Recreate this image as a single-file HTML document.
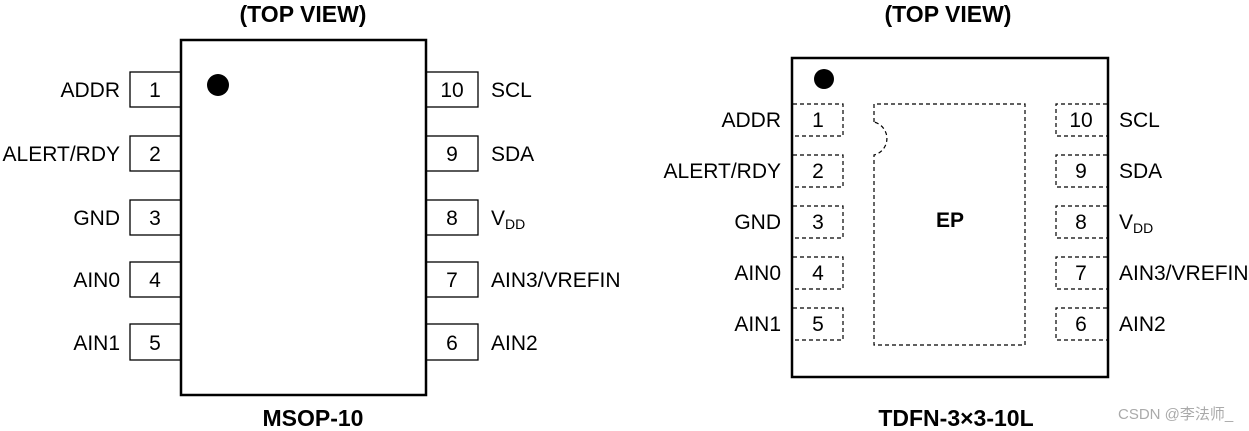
<!DOCTYPE html>
<html><head><meta charset="utf-8"><style>
html,body{margin:0;padding:0;background:#fff;}
svg{display:block;}
text{font-family:"Liberation Sans",Arial,sans-serif;font-size:21px;fill:#000;}
.b{font-weight:bold;font-size:23px;}
</style></head><body>
<svg width="1249" height="431" viewBox="0 0 1249 431" xmlns="http://www.w3.org/2000/svg">
<text class="b" x="303" y="22" text-anchor="middle">(TOP VIEW)</text>
<text class="b" x="948" y="22" text-anchor="middle">(TOP VIEW)</text>
<text class="b" x="313" y="426" text-anchor="middle">MSOP-10</text>
<text class="b" x="956" y="426" text-anchor="middle">TDFN-3×3-10L</text>
<text x="1118" y="419" style="font-size:15px;fill:#aaa" font-family="Liberation Sans, Noto Sans CJK SC, sans-serif">CSDN @李法师_</text>

<!-- MSOP -->
<g fill="#fff" stroke="#000" stroke-width="1.3">
<rect x="130" y="72" width="51" height="35"/>
<rect x="130" y="136" width="51" height="35"/>
<rect x="130" y="200" width="51" height="35"/>
<rect x="130" y="262" width="51" height="35"/>
<rect x="130" y="324" width="51" height="36"/>
<rect x="426" y="72" width="52" height="35"/>
<rect x="426" y="136" width="52" height="35"/>
<rect x="426" y="200" width="52" height="35"/>
<rect x="426" y="262" width="52" height="35"/>
<rect x="426" y="324" width="52" height="36"/>
</g>
<rect x="181" y="40" width="245" height="355" fill="#fff" stroke="#000" stroke-width="2.5"/>
<circle cx="218" cy="85" r="11"/>
<g text-anchor="middle">
<text x="155" y="97">1</text><text x="155" y="161">2</text><text x="155" y="225">3</text><text x="155" y="287">4</text><text x="155" y="350">5</text>
<text x="452" y="97">10</text><text x="452" y="161">9</text><text x="452" y="225">8</text><text x="452" y="287">7</text><text x="452" y="350">6</text>
</g>
<g text-anchor="end">
<text x="120" y="97">ADDR</text><text x="120" y="161">ALERT/RDY</text><text x="120" y="225">GND</text><text x="120" y="287">AIN0</text><text x="120" y="350">AIN1</text>
</g>
<text x="491" y="97">SCL</text><text x="491" y="161">SDA</text>
<text x="491" y="225">V<tspan style="font-size:14px" dy="4">DD</tspan></text>
<text x="491" y="287">AIN3/VREFIN</text><text x="491" y="350">AIN2</text>

<!-- TDFN -->
<rect x="792" y="58" width="316" height="319" fill="#fff" stroke="#000" stroke-width="2.5"/>
<circle cx="824" cy="79" r="10"/>
<g fill="none" stroke="#000" stroke-width="1.2" stroke-dasharray="4,3">
<path d="M793 104 H843 V136 H793"/>
<path d="M793 155 H843 V187 H793"/>
<path d="M793 206 H843 V238 H793"/>
<path d="M793 257 H843 V289 H793"/>
<path d="M793 308 H843 V340 H793"/>
<path d="M1107 104 H1056 V136 H1107"/>
<path d="M1107 155 H1056 V187 H1107"/>
<path d="M1107 206 H1056 V238 H1107"/>
<path d="M1107 257 H1056 V289 H1107"/>
<path d="M1107 308 H1056 V340 H1107"/>
<path d="M874 122 V104 H1025 V345 H874 V155 A17 17 0 0 0 874 122"/>
</g>
<text class="b" x="950" y="227" text-anchor="middle" style="font-size:21px">EP</text>
<g text-anchor="middle">
<text x="818" y="127">1</text><text x="818" y="178">2</text><text x="818" y="229">3</text><text x="818" y="280">4</text><text x="818" y="331">5</text>
<text x="1081" y="127">10</text><text x="1081" y="178">9</text><text x="1081" y="229">8</text><text x="1081" y="280">7</text><text x="1081" y="331">6</text>
</g>
<g text-anchor="end">
<text x="781" y="127">ADDR</text><text x="781" y="178">ALERT/RDY</text><text x="781" y="229">GND</text><text x="781" y="280">AIN0</text><text x="781" y="331">AIN1</text>
</g>
<text x="1119" y="127">SCL</text><text x="1119" y="178">SDA</text>
<text x="1119" y="229">V<tspan style="font-size:14px" dy="4">DD</tspan></text>
<text x="1119" y="280">AIN3/VREFIN</text><text x="1119" y="331">AIN2</text>
</svg>
</body></html>
